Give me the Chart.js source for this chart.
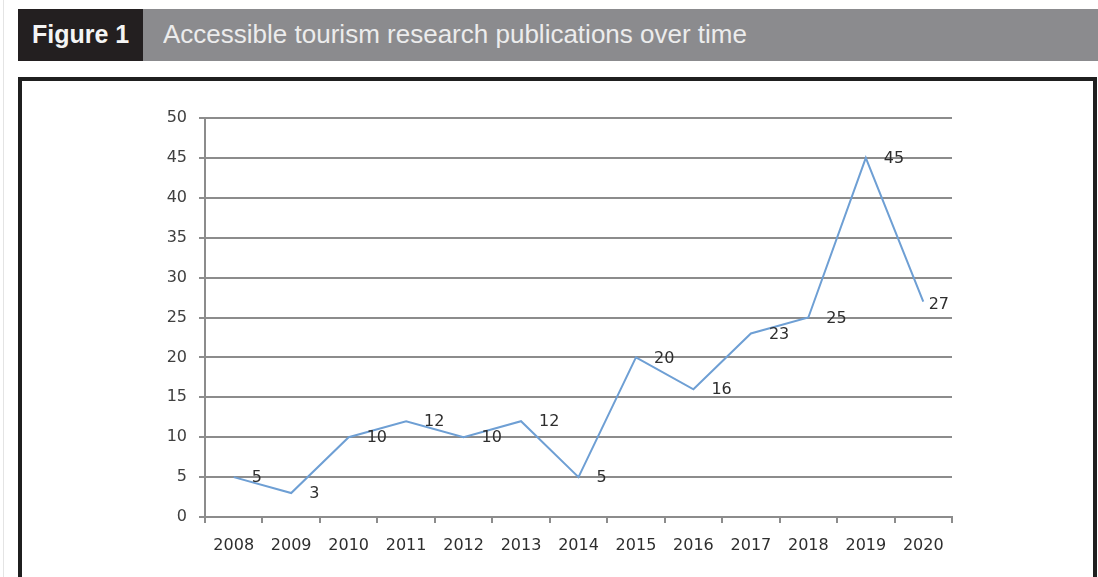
<!DOCTYPE html>
<html>
<head>
<meta charset="utf-8">
<script src="https://cdn.jsdelivr.net/npm/chart.js@4.4.1/dist/chart.umd.min.js"></script>
<style>
  html, body { margin: 0; padding: 0; background: #ffffff; }
  body { width: 1098px; height: 577px; position: relative; overflow: hidden; }
  #edge { position: absolute; left: 3px; top: 0; width: 1px; height: 577px; background: #e4e4e4; }
  #hdrDark { position: absolute; left: 18px; top: 9px; width: 125px; height: 52px; background: #231f20; }
  #hdrGray { position: absolute; left: 143px; top: 9px; width: 955px; height: 52px; background: #8b8b8e; }
  #figLabel { position: absolute; left: 32px; top: 18px; font: bold 25px "Liberation Sans", Arial, sans-serif; color: #f4f4f4; white-space: nowrap; line-height: 32px; }
  #figTitle { position: absolute; left: 163px; top: 18px; font: 25px "Liberation Sans", Arial, sans-serif; color: #ececec; white-space: nowrap; line-height: 32px; transform-origin: 0 0; }
  #frame { position: absolute; left: 18px; top: 77px; width: 1071px; height: 600px; border: 4px solid #1f1f1f; background: #ffffff; }
  #c { position: absolute; left: 0; top: 0; }
</style>
</head>
<body>
<div id="edge"></div>
<div id="hdrDark"></div>
<div id="hdrGray"></div>
<div id="figLabel">Figure 1</div>
<div id="figTitle">Accessible tourism research publications over time</div>
<div id="frame"></div>
<canvas id="c" width="1098" height="577"></canvas>
<script>
// ---- data ----
const years = ['2008','2009','2010','2011','2012','2013','2014','2015','2016','2017','2018','2019','2020'];
const publications = [5, 3, 10, 12, 10, 12, 5, 20, 16, 23, 25, 45, 27];
const yMin = 0;
const yMax = 50;
const yStep = 5;

// fit title width to reference
(function () {
  const t = document.getElementById('figTitle');
  const w = t.getBoundingClientRect().width;
  if (w > 0) t.style.transform = 'scaleX(' + (584 / w) + ')';
})();

const labelFont = '16px "DejaVu Sans", sans-serif';

const valueLabels = {
  id: 'valueLabels',
  afterDatasetsDraw(chart) {
    const ctx = chart.ctx;
    const meta = chart.getDatasetMeta(0);
    const area = chart.chartArea;
    ctx.save();
    ctx.font = labelFont;
    ctx.fillStyle = '#2e2e2e';
    ctx.textAlign = 'left';
    ctx.textBaseline = 'middle';
    meta.data.forEach((pt, i) => {
      const txt = String(chart.data.datasets[0].data[i]);
      const w = ctx.measureText(txt).width;
      let x = pt.x + 18;
      let y = pt.y + 1;
      if (x + w > area.right - 3) { x = area.right - 3 - w; y = pt.y + 3; }
      ctx.fillText(txt, x, y);
    });
    ctx.restore();
  }
};

new Chart(document.getElementById('c'), {
  type: 'line',
  data: {
    labels: years,
    datasets: [{
      data: publications,
      borderColor: '#6e9fd4',
      borderWidth: 2,
      pointRadius: 0,
      tension: 0,
      fill: false
    }]
  },
  options: {
    responsive: false,
    animation: false,
    devicePixelRatio: 1,
    layout: { padding: { left: 0, right: 146, top: 118, bottom: 0 } },
    plugins: { legend: { display: false }, tooltip: { enabled: false } },
    scales: {
      x: {
        type: 'category',
        offset: true,
        grid: {
          offset: true,
          drawOnChartArea: false,
          drawTicks: true,
          tickLength: 6,
          color: '#8c8c8c',
          lineWidth: 2
        },
        border: { display: true, color: '#8c8c8c', width: 2 },
        ticks: {
          font: { family: '"DejaVu Sans", sans-serif', size: 16 },
          color: '#2e2e2e',
          padding: 13,
          maxRotation: 0,
          autoSkip: false
        },
        afterFit(scale) { scale.height = 60; }
      },
      y: {
        min: yMin,
        max: yMax,
        ticks: {
          stepSize: yStep,
          font: { family: '"DejaVu Sans", sans-serif', size: 16 },
          color: '#404040',
          padding: 12
        },
        grid: {
          color: '#8c8c8c',
          lineWidth: 2,
          drawTicks: true,
          tickLength: 6
        },
        border: { display: true, color: '#8c8c8c', width: 2 },
        afterFit(scale) { scale.width = 205; }
      }
    }
  },
  plugins: [valueLabels]
});
</script>
</body>
</html>
